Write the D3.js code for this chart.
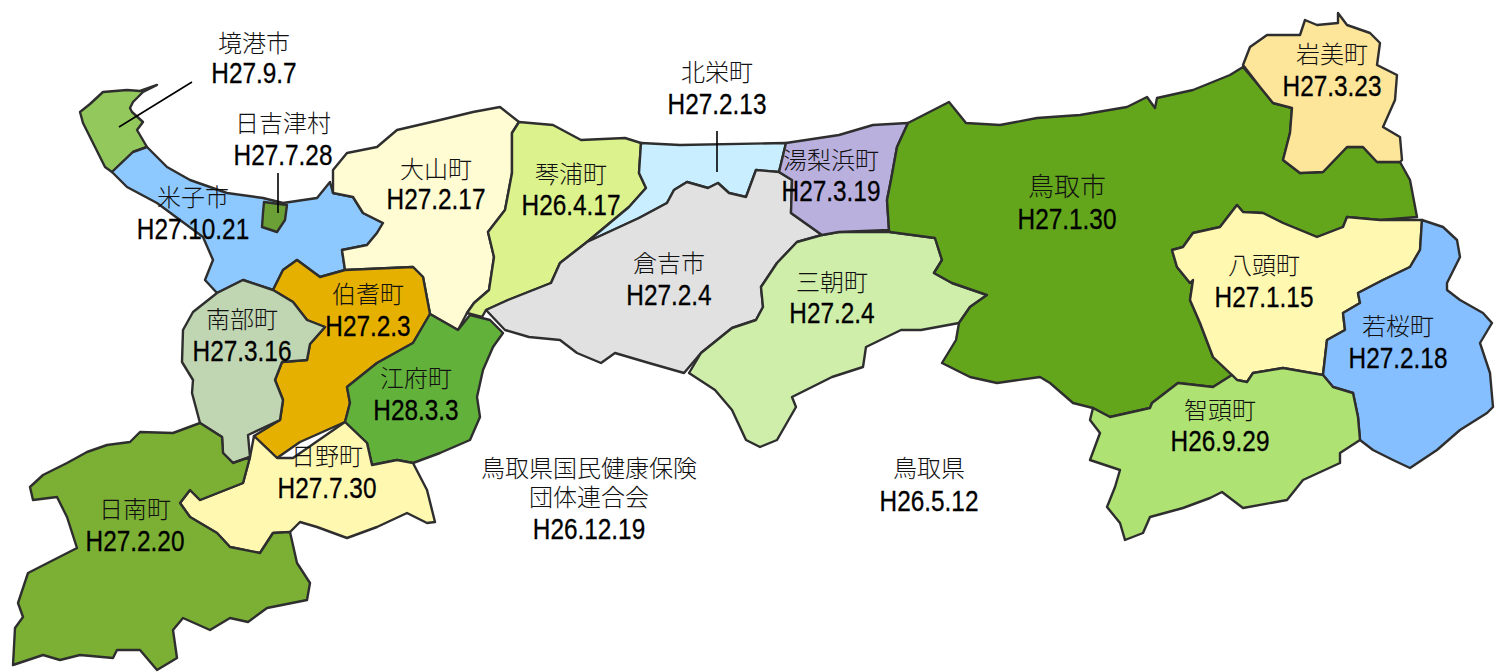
<!DOCTYPE html>
<html>
<head>
<meta charset="utf-8">
<script src="https://cdn.jsdelivr.net/npm/d3@7"></script>
<style>
    body { margin: 0; background: #fff; }
    svg { display: block; }
</style>
</head>
<body>
<div id="map"></div>
<script>
// outlines, in map units
const sakaiminato = [[80,112],[90,104],[103,92],[127,90],[140,91],[157,85],[143,92],[133,102],[130,108],[132,112],[143,122],[137,130],[147,147],[133,152],[112,172],[105,167],[93,143],[83,123]];
const yonago = [[112,172],[133,152],[147,147],[167,167],[190,180],[227,193],[263,198],[283,203],[317,198],[330,182],[333,193],[353,197],[363,213],[383,223],[377,233],[367,245],[342,250],[345,270],[320,277],[297,260],[283,270],[273,290],[243,280],[217,293],[205,280],[213,260],[203,237],[180,220],[157,203],[127,187]];
const hiezu = [[264,202],[287,205],[285,220],[277,232],[262,227],[263,213]];
const daisen = [[333,170],[347,153],[377,147],[397,130],[440,120],[473,112],[500,107],[519,122],[512,133],[512,173],[505,210],[488,232],[494,257],[489,290],[474,303],[467,313],[458,330],[430,314],[423,277],[413,267],[345,270],[342,250],[367,245],[377,233],[383,223],[363,213],[353,197],[333,193]];
const kotoura = [[519,122],[553,125],[581,140],[625,138],[641,143],[639,173],[646,188],[629,207],[587,242],[560,263],[551,283],[508,300],[486,310],[482,317],[467,313],[474,303],[489,290],[494,257],[488,232],[505,210],[512,173],[512,133]];
const hokuei = [[641,143],[680,145],[786,143],[779,172],[756,170],[746,197],[729,193],[718,183],[708,188],[687,182],[674,190],[667,203],[639,218],[587,242],[629,207],[646,188],[639,173]];
const kurayoshi = [[587,242],[639,218],[667,203],[674,190],[687,182],[708,188],[718,183],[729,193],[746,197],[756,170],[779,172],[792,180],[791,213],[822,235],[797,242],[777,263],[761,287],[763,307],[756,320],[732,328],[701,353],[684,373],[649,363],[615,353],[601,363],[577,353],[560,340],[529,337],[505,330],[486,310],[508,300],[551,283],[560,263]];
const misasa = [[797,242],[822,235],[838,232],[890,232],[935,238],[942,260],[934,273],[952,283],[987,295],[970,307],[959,323],[921,330],[901,330],[866,347],[863,367],[832,377],[792,397],[796,407],[777,440],[760,447],[746,440],[732,410],[715,390],[689,373],[701,353],[732,328],[756,320],[763,307],[761,287],[777,263]];
const yurihama = [[786,143],[839,135],[873,125],[908,123],[897,147],[891,180],[887,200],[889,230],[839,232],[822,235],[791,213],[792,180],[779,172]];
const tottori = [[908,123],[949,102],[966,123],[1000,125],[1037,118],[1080,115],[1127,107],[1147,97],[1155,108],[1157,98],[1193,90],[1230,75],[1243,67],[1260,87],[1273,103],[1292,108],[1290,133],[1283,160],[1300,173],[1323,172],[1347,147],[1363,147],[1377,162],[1400,162],[1410,180],[1417,217],[1380,220],[1347,217],[1343,227],[1317,237],[1283,223],[1263,213],[1243,212],[1237,205],[1220,227],[1193,233],[1183,247],[1172,250],[1177,267],[1190,283],[1193,280],[1190,300],[1200,323],[1213,357],[1232,375],[1213,387],[1178,383],[1152,403],[1150,408],[1110,417],[1093,408],[1073,403],[1050,383],[1040,377],[997,383],[970,377],[942,363],[956,340],[959,323],[970,307],[987,295],[952,283],[934,273],[942,260],[935,238],[890,232],[889,230],[887,200],[891,180],[897,147]];
const iwami = [[1243,65],[1250,47],[1267,35],[1300,35],[1305,20],[1317,25],[1338,23],[1338,13],[1347,25],[1370,33],[1380,43],[1377,65],[1397,75],[1395,100],[1383,127],[1400,137],[1402,160],[1400,162],[1377,162],[1363,147],[1347,147],[1323,172],[1300,173],[1283,160],[1290,133],[1292,108],[1273,103],[1260,87]];
const yazu = [[1172,250],[1183,247],[1193,233],[1220,227],[1237,205],[1243,212],[1263,213],[1283,223],[1317,237],[1343,227],[1347,217],[1380,220],[1422,220],[1420,250],[1410,267],[1383,280],[1358,293],[1360,303],[1343,313],[1345,330],[1327,340],[1323,375],[1283,368],[1253,373],[1247,382],[1237,380],[1232,375],[1213,357],[1200,323],[1190,300],[1193,280],[1190,283],[1177,267]];
const wakasa = [[1422,220],[1443,227],[1457,240],[1460,257],[1447,283],[1447,290],[1460,300],[1483,313],[1492,323],[1480,343],[1490,373],[1493,407],[1487,413],[1460,430],[1437,450],[1410,468],[1393,460],[1373,450],[1360,440],[1358,417],[1353,393],[1333,387],[1323,375],[1327,340],[1345,330],[1343,313],[1360,303],[1358,293],[1383,280],[1410,267],[1420,250]];
const chizu = [[1323,375],[1333,387],[1353,393],[1358,417],[1360,440],[1340,453],[1340,463],[1303,480],[1287,500],[1243,508],[1222,492],[1210,498],[1183,508],[1150,517],[1143,533],[1125,540],[1120,523],[1107,507],[1115,487],[1120,470],[1090,460],[1100,433],[1090,420],[1093,408],[1110,417],[1150,408],[1152,403],[1178,383],[1213,387],[1232,375],[1237,380],[1247,382],[1253,373],[1283,368]];
const hoki = [[273,290],[283,270],[297,260],[320,277],[345,270],[413,267],[423,277],[430,314],[413,343],[377,363],[347,387],[350,403],[345,422],[300,442],[277,458],[254,436],[280,420],[283,400],[275,380],[282,362],[307,360],[310,344],[325,327],[307,320],[293,302]];
const nanbu = [[217,293],[243,280],[273,290],[293,302],[307,320],[325,327],[310,344],[307,360],[282,362],[275,380],[283,400],[280,420],[248,435],[250,457],[233,463],[223,453],[222,437],[200,423],[192,393],[193,380],[182,362],[183,330],[193,312]];
const kofu = [[430,314],[458,330],[470,315],[490,320],[503,333],[493,347],[483,370],[477,397],[480,417],[470,440],[440,453],[413,463],[397,460],[372,465],[367,443],[345,422],[350,403],[347,387],[377,363],[413,343]];
const hino = [[254,436],[277,458],[293,458],[345,422],[367,443],[372,465],[397,460],[413,463],[427,490],[435,522],[427,523],[407,513],[377,527],[347,538],[317,527],[300,522],[290,532],[273,533],[260,553],[230,547],[217,533],[190,517],[180,503],[190,490],[200,500],[243,483],[250,457]];
const nichinan = [[200,423],[222,437],[223,453],[233,463],[250,457],[243,483],[200,500],[190,490],[180,503],[190,517],[217,533],[230,547],[260,553],[273,533],[290,532],[297,563],[310,583],[307,600],[267,608],[248,622],[230,618],[210,630],[183,618],[173,630],[177,658],[157,670],[140,650],[117,650],[113,658],[80,655],[60,660],[43,655],[13,665],[15,628],[23,617],[18,603],[28,573],[77,548],[67,517],[57,497],[33,500],[30,487],[43,475],[67,463],[87,452],[107,445],[130,442],[140,432],[173,433]];

const outlines = [sakaiminato, yonago, hiezu, daisen, kotoura, hokuei, kurayoshi, misasa, yurihama, tottori, iwami, yazu, wakasa, chizu, hoki, nanbu, kofu, hino, nichinan];
const names = ["境港市", "米子市", "日吉津村", "大山町", "琴浦町", "北栄町", "倉吉市", "三朝町", "湯梨浜町", "鳥取市", "岩美町", "八頭町", "若桜町", "智頭町", "伯耆町", "南部町", "江府町", "日野町", "日南町"];
const dates = ["H27.9.7", "H27.10.21", "H27.7.28", "H27.2.17", "H26.4.17", "H27.2.13", "H27.2.4", "H27.2.4", "H27.3.19", "H27.1.30", "H27.3.23", "H27.1.15", "H27.2.18", "H26.9.29", "H27.2.3", "H27.3.16", "H28.3.3", "H27.7.30", "H27.2.20"];
const fills = ["#93c85d", "#8dc9ff", "#6ba035", "#fffbd2", "#dcf28c", "#c9eeff", "#e1e1e1", "#ceeeaa", "#b9b0de", "#64a61f", "#fde599", "#fff8b0", "#85bfff", "#aee272", "#e6b000", "#c0d5b2", "#62b13a", "#fff8b0", "#7bb034"];

// name line and date line, centre x / baseline y
const labelPos = [[254,52,83],[193,206,239],[283,132,165],[436,178,209],[571,183,215],[717,81,114],[669,272,305],[832,291,323],[831,169,201],[1067,196,229],[1332,63,96],[1264,274,307],[1398,335,368],[1220,419,451],[368,303,336],[242,328,361],[416,387,420],[327,465,498],[135,518,551]];

const extraNames = ["鳥取県国民健康保険", "団体連合会", "鳥取県"];
const extraDates = ["H26.12.19", "H26.5.12"];
const leaders = [[[192,82],[119,127]], [[717,131],[717,172]], [[278,173],[278,213]]];

const width = 1496, height = 672;
const jpFont = '"Noto Sans CJK JP", sans-serif';

const svg = d3.select("#map").append("svg")
    .attr("width", width)
    .attr("height", height);

// the source is a soft, upscaled bitmap
svg.append("defs").append("filter")
    .attr("id", "soft")
    .append("feGaussianBlur")
    .attr("stdDeviation", 0.55);

const features = outlines.map((ring, i) => ({
    type: "Feature",
    properties: { name: names[i], fill: fills[i] },
    geometry: { type: "Polygon", coordinates: [[...ring, ring[0]]] }
}));

const path = d3.geoPath(d3.geoIdentity());

svg.append("g")
    .attr("filter", "url(#soft)")
    .selectAll("path")
    .data(features)
    .enter().append("path")
    .attr("d", path)
    .attr("fill", d => d.properties.fill)
    .attr("stroke", "#2e2e2e")
    .attr("stroke-width", 2.4)
    .attr("stroke-linejoin", "round");

svg.append("g").selectAll("line")
    .data(leaders)
    .enter().append("line")
    .attr("x1", d => d[0][0])
    .attr("y1", d => d[0][1])
    .attr("x2", d => d[1][0])
    .attr("y2", d => d[1][1])
    .attr("stroke", "#000")
    .attr("stroke-width", 1.6);

function nameText(g, str, x, y, size) {
    g.append("text")
        .attr("x", x)
        .attr("y", y)
        .attr("text-anchor", "middle")
        .style("font-family", jpFont)
        .style("font-size", (size || 24) + "px")
        .style("font-weight", 300)
        .style("fill", "#111")
        .text(str);
}

// dates are tall and narrow in the source
function dateText(g, str, x, y) {
    const t = g.append("text")
        .attr("x", x)
        .attr("y", y)
        .attr("text-anchor", "middle")
        .style("font-family", '"Liberation Sans", sans-serif')
        .style("font-size", "29px")
        .style("fill", "#000")
        .style("stroke", "#000")
        .style("stroke-width", 0.3)
        .text(str);
    t.attr("textLength", t.node().getComputedTextLength() * 0.84)
        .attr("lengthAdjust", "spacingAndGlyphs");
}

const labels = svg.append("g");
names.forEach((n, i) => {
    nameText(labels, n, labelPos[i][0], labelPos[i][1], n === "鳥取市" ? 26 : 24);
    dateText(labels, dates[i], labelPos[i][0], labelPos[i][2]);
});

nameText(labels, extraNames[0], 589, 477);
nameText(labels, extraNames[1], 589, 506);
dateText(labels, extraDates[0], 589, 539);
nameText(labels, extraNames[2], 929, 477);
dateText(labels, extraDates[1], 929, 511);
</script>
</body>
</html>
